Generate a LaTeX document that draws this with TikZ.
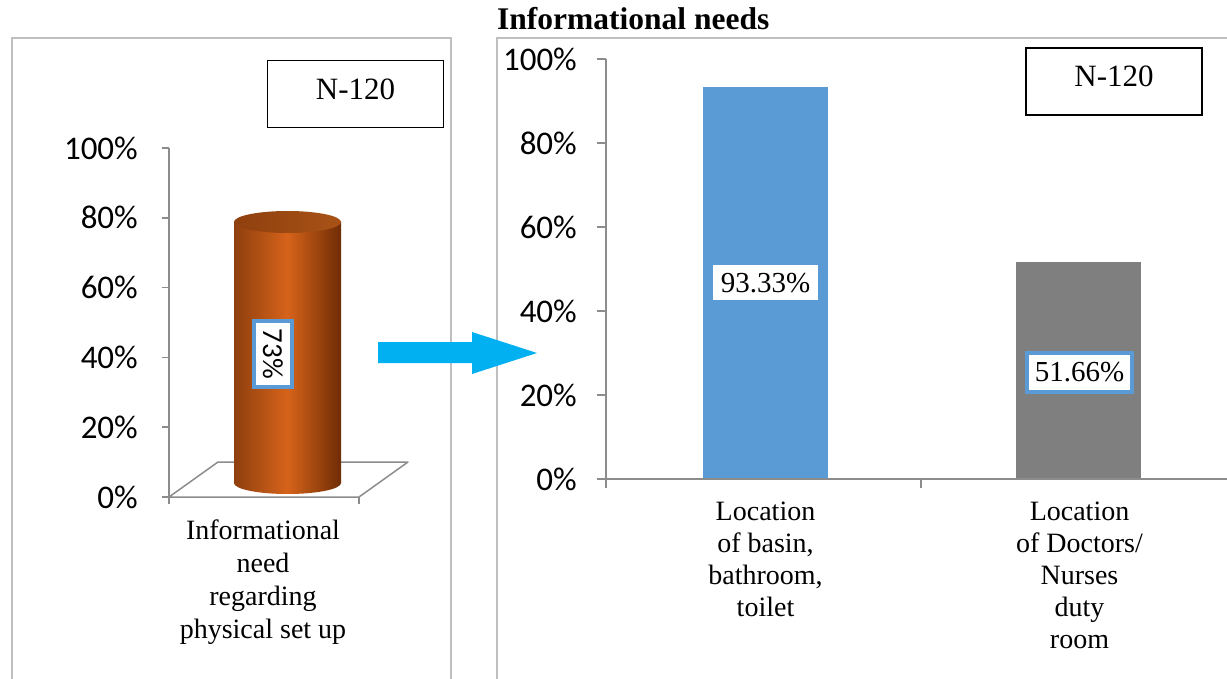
\documentclass[tikz,border=0pt]{standalone}
\usepackage{fontspec}
\setmainfont{Liberation Serif}
\newfontfamily\calfont{Carlito}
\definecolor{framegray}{HTML}{BFBFBF}
\definecolor{axisgray}{HTML}{8C8C8C}
\definecolor{barblue}{HTML}{5B9BD5}
\definecolor{bargray}{HTML}{7F7F7F}
\definecolor{arrowblue}{HTML}{00B0F0}
\definecolor{cylleft}{HTML}{8E3F0E}
\definecolor{cylright}{HTML}{6F2C05}
\definecolor{cylmid}{HTML}{D6631A}
\definecolor{cyltopA}{HTML}{8F400E}
\definecolor{cyltopB}{HTML}{A85216}
\begin{document}
\begin{tikzpicture}[x=1pt,y=-1pt,
  ticklab/.style={font=\calfont\fontsize{33}{33}\selectfont, anchor=east, inner sep=0},
  catlabL/.style={font=\fontsize{28}{33}\selectfont, align=center, anchor=north, inner sep=0},
  catlabR/.style={font=\fontsize{28}{32}\selectfont, align=center, anchor=north, inner sep=0},
  nbox/.style={draw=black, line width=1.5pt, fill=white, minimum width=176, minimum height=67, inner sep=0, text depth=10pt, font=\fontsize{31}{31}\selectfont},
  axisline/.style={draw=axisgray, line width=1.5pt},
  framebox/.style={draw=framegray, line width=1.5pt},
  valbox/.style={fill=white, inner sep=0, font=\fontsize{29}{29}\selectfont},
  bluebox/.style={draw=barblue, line width=4pt}]
\useasboundingbox (0,0) rectangle (1227,679);
\fill[white] (0,0) rectangle (1227,679);

% frames
\draw[framebox] (12,700) -- (12,38) -- (451,38) -- (451,700);
\draw[framebox] (497,700) -- (497,38) -- (1240,38);

% title
\node[anchor=base west, inner sep=0, font=\bfseries\fontsize{31.5}{31.5}\selectfont] (title) at (497,30) {Informational needs};

% ---------- left chart ----------
\draw[axisline] (169,148) -- (169,497);
\foreach \v [count=\i from 0] in {0,20,40,60,80,100} {
  \draw[axisline] (162,{497-69.8*\i}) -- (169,{497-69.8*\i});
  \node[ticklab] (ly\i) at (138,{497-69.8*\i}) {\v\%};
}
\draw[axisline, line join=round] (169,497) -- (218,462) -- (408,462) -- (359,497) -- cycle;
\draw[axisline] (169,497) -- (169,504);
\draw[axisline] (359,497) -- (359,504);

% cylinder
\shade[left color=cylleft, right color=cylright, middle color=cylmid]
  (234,222) -- (234,483) arc[start angle=180, end angle=0, x radius=53.5, y radius=11] -- (341,222) -- cycle;
\shade[left color=cyltopA, right color=cyltopB] (287.5,222) ellipse[x radius=53.5, y radius=11];

\node[bluebox, fill=white, rotate=-90, minimum width=66, minimum height=38, inner sep=0,
  font=\calfont\fontsize{29}{29}\selectfont] (v73) at (273,354) {73\%};

\node[nbox] (nleft) at (355.5,94) {N-120};

\node[catlabL] (catL) at (263,520) {Informational\\need\\regarding\\physical set up};

% ---------- arrow ----------
\fill[arrowblue] (378,342) -- (472,342) -- (472,332) -- (537,353) -- (472,374) -- (472,363) -- (378,363) -- cycle;

% ---------- right chart ----------
\draw[axisline] (606,59) -- (606,479);
\foreach \v [count=\i from 0] in {0,20,40,60,80,100} {
  \draw[axisline] (597,{479-84*\i}) -- (606,{479-84*\i});
  \node[ticklab] (ry\i) at (577,{479-84*\i}) {\v\%};
}
\fill[barblue] (703,87) rectangle (828,479);
\fill[bargray] (1016,262) rectangle (1141,479);
\draw[axisline] (597,479) -- (1240,479);
\draw[axisline] (606,479) -- (606,488);
\draw[axisline] (921,479) -- (921,488);

\node[valbox, minimum width=105, minimum height=35] (v93) at (765.5,283) {93.33\%};
\node[valbox, bluebox, minimum width=105, minimum height=39] (v51) at (1079.5,372) {51.66\%};

\node[nbox] (nright) at (1114,81.5) {N-120};

\node[catlabR] (catA) at (765.5,502) {Location\\of basin,\\bathroom,\\toilet};
\node[catlabR] (catB) at (1079.5,502) {Location\\of Doctors/\\Nurses\\duty\\room};
\end{tikzpicture}
\end{document}
